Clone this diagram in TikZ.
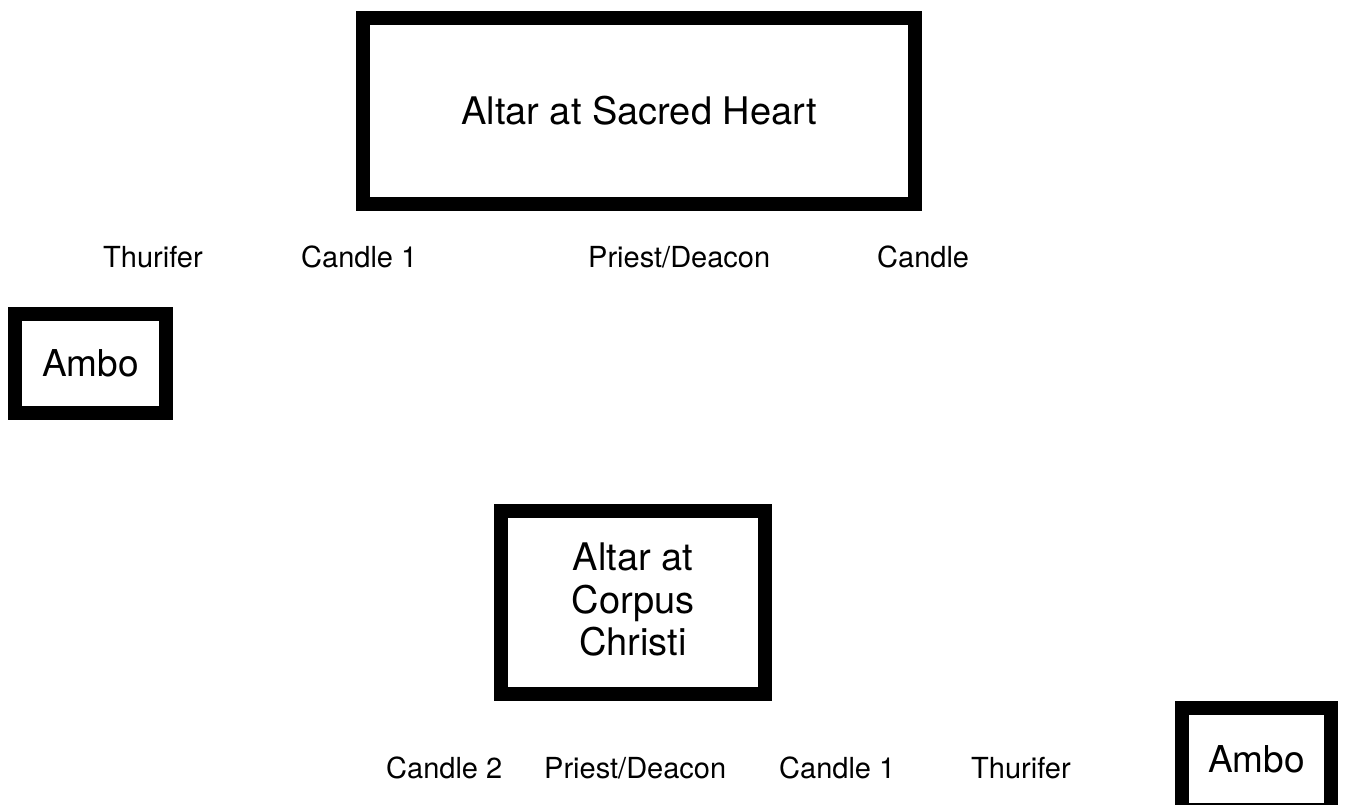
\documentclass[tikz,border=0pt]{standalone}
\usepackage{fontspec}
\setmainfont{TeX Gyre Heros}
\begin{document}
\begin{tikzpicture}[x=1pt,y=-1pt,
  thickbox/.style={draw=black,line width=14pt,fill=white,inner sep=0pt,align=center,
    font=\fontsize{38}{43}\selectfont},
  lbl/.style={anchor=base west,inner sep=0pt,font=\fontsize{29}{34}\selectfont}]
\path[use as bounding box,clip] (0,0) rectangle (1345,805);
\fill[white] (0,0) rectangle (1345,805);
\node[thickbox,minimum width=552pt,minimum height=186pt] (sh) at (639,111) {Altar at Sacred Heart};
\node[thickbox,minimum width=151pt,minimum height=99pt,font=\fontsize{37}{42}\selectfont] (ambo1) at (90.5,363.5) {Ambo};
\node[thickbox,minimum width=264pt,minimum height=183pt] (cc) at (633,602.5) {};
\node[align=center,inner sep=0pt,font=\fontsize{38}{42.5}\selectfont] (cct) at (633,599.5) {Altar at\\Corpus\\Christi};
\node[thickbox,minimum width=149pt,minimum height=102pt,font=\fontsize{37}{42}\selectfont] (ambo2) at (1256.5,759) {Ambo};
% row 1
\node[lbl] (t1) at (103,268) {Thurifer};
\node[lbl] (c11) at (301,268) {Candle 1};
\node[lbl] (p1) at (588,268) {Priest/Deacon};
\node[lbl] (c12) at (877,268) {Candle};
% row 2
\node[lbl] (c2) at (386,778) {Candle 2};
\node[lbl] (p2) at (544,778) {Priest/Deacon};
\node[lbl] (c21) at (779,778) {Candle 1};
\node[lbl] (t2) at (971,778) {Thurifer};
\end{tikzpicture}
\end{document}
